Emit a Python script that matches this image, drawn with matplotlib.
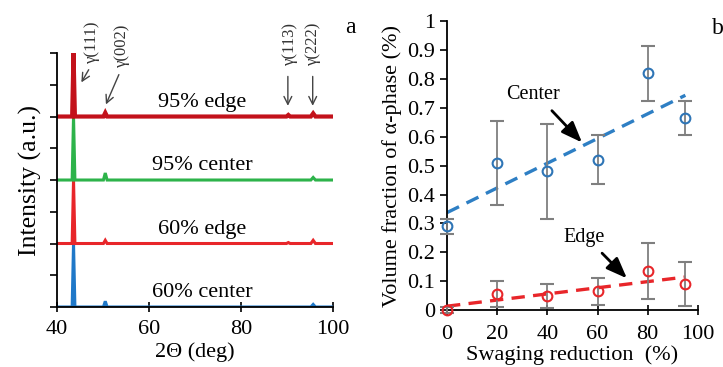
import numpy as np
import matplotlib
matplotlib.use("Agg")
import matplotlib.pyplot as plt

plt.rcParams["font.family"] = ["Liberation Serif", "DejaVu Serif"]
plt.rcParams["mathtext.fontset"] = "stix"

# ── (a) XRD patterns: key points ──────────────────────────────────
two_theta = [40, 43.3, 43.6, 43.9, 50.1, 50.5, 50.9, 89.9, 90.3, 90.7, 95.2, 95.7, 96.2, 100]
xrd_60_center = [0, 0, 2.0, 0, 0, 0.18, 0, 0, 0, 0, 0, 0.08, 0, 0]
xrd_60_edge = [0, 0, 2.0, 0, 0, 0.10, 0, 0, 0.03, 0, 0, 0.10, 0, 0]
xrd_95_center = [0, 0, 2.0, 0, 0, 0.22, 0, 0, 0, 0, 0, 0.08, 0, 0]
xrd_95_edge = [0, 0, 2.0, 0, 0, 0.12, 0, 0, 0.05, 0, 0, 0.10, 0, 0]
xrd_labels = ["60% center", "60% edge", "95% center", "95% edge"]
xrd_offsets = [0, 2, 4, 6]
xrd_colors = ["#1f78c8", "#e8262a", "#2db34a", "#c3121b"]

peak_names = ["γ(111)", "γ(002)", "γ(113)", "γ(222)"]

# ── (b) α-phase volume fraction ───────────────────────────────────
reduction = np.array([0, 20, 40, 60, 80, 95])
center = np.array([0.29, 0.51, 0.48, 0.52, 0.82, 0.665])
center_err = np.array([0.025, 0.145, 0.165, 0.085, 0.095, 0.058])
edge = np.array([0.0, 0.055, 0.05, 0.065, 0.135, 0.09])
edge_err = np.array([0.01, 0.045, 0.042, 0.047, 0.097, 0.077])

FS = 16

fig = plt.figure(figsize=(7.23, 3.67), dpi=100)

# ── panel a ──
ax = fig.add_axes([0.0788, 0.1635, 0.3817, 0.692])
spectra = [xrd_60_center, xrd_60_edge, xrd_95_center, xrd_95_edge]
for ys, off, col, lab in zip(spectra, xrd_offsets, xrd_colors, xrd_labels):
    ax.plot(two_theta, np.array(ys) + off, color=col, lw=2.2 if lab != "95% edge" else 3.0,
            solid_joinstyle="miter")
    ax.text(71.5, off + 0.45, lab, ha="center", va="center", fontsize=FS)

ax.set_xlim(40, 100)
ax.set_ylim(0, 8)
ax.set_xticks([40, 60, 80, 100])
ax.set_yticks(np.arange(0, 9, 1))
ax.set_yticklabels([])
ax.tick_params(axis="y", direction="out", length=5, width=1.2)
ax.tick_params(axis="x", direction="inout", length=7, width=1.2, labelsize=FS, pad=6)
for s in ["top", "right"]:
    ax.spines[s].set_visible(False)
for s in ["left", "bottom"]:
    ax.spines[s].set_linewidth(1.3)
ax.set_xlabel("2Θ (deg)", fontsize=FS, labelpad=2)
ax.set_ylabel("Intensity (a.u.)", fontsize=18.5, labelpad=2)

# peak labels + arrows
label_pos = [(47.6, 8.35), (54.1, 8.25), (90.6, 8.3), (95.6, 8.3)]
arrow_tail = [(47.2, 7.55), (53.7, 7.4), (90.2, 7.35), (95.6, 7.35)]
arrow_head = [(45.0, 7.0), (50.4, 6.3), (90.2, 6.25), (95.6, 6.25)]
for name, lp, tl, hd in zip(peak_names, label_pos, arrow_tail, arrow_head):
    ax.text(lp[0], lp[1], name, rotation=90, ha="center", va="center",
            fontsize=12, color="#333333", clip_on=False)
    ax.annotate("", xy=hd, xytext=tl,
                arrowprops=dict(arrowstyle="->", color="#444444", lw=1.0,
                                mutation_scale=14), annotation_clip=False)

fig.text(0.484, 0.925, "a", fontsize=17, ha="center", va="center")

# ── panel b ──
bx = fig.add_axes([0.6183, 0.155, 0.347, 0.7875])
bx.errorbar(reduction, center, yerr=center_err, fmt="o", mfc="none",
            mec="#2e75b6", mew=1.5, ms=7, ecolor="#7f7f7f", elinewidth=1.3,
            capsize=5, capthick=1.3, clip_on=False, zorder=3)
bx.errorbar(reduction, edge, yerr=edge_err, fmt="o", mfc="none",
            mec="#e8262a", mew=1.5, ms=7, ecolor="#7f7f7f", elinewidth=1.3,
            capsize=5, capthick=1.3, clip_on=False, zorder=3)

xfit = np.array([reduction.min(), reduction.max()])
pc = np.polyfit(reduction, center, 1)
pe = np.polyfit(reduction, edge, 1)
bx.plot(xfit, np.polyval(pc, xfit), ls=(0, (4, 2.5)), color="#2e7fc4", lw=2.4, zorder=2)
bx.plot(xfit, np.polyval(pe, xfit), ls=(0, (4, 2.5)), color="#e8262a", lw=2.4, zorder=2)

bx.set_xlim(0, 100)
bx.set_ylim(0, 1)
bx.set_xticks(np.arange(0, 101, 20))
bx.set_yticks(np.arange(0, 1.01, 0.1))
bx.set_yticklabels(["0", "0.1", "0.2", "0.3", "0.4", "0.5", "0.6", "0.7", "0.8", "0.9", "1"])
bx.tick_params(axis="y", direction="out", length=5, width=1.2, labelsize=FS)
bx.tick_params(axis="x", direction="inout", length=7, width=1.2, labelsize=FS, pad=7)
for s in ["top", "right"]:
    bx.spines[s].set_visible(False)
for s in ["left", "bottom"]:
    bx.spines[s].set_linewidth(1.3)
bx.set_xlabel("Swaging reduction  (%)", fontsize=FS, labelpad=1)
bx.set_ylabel("Volume fraction of α-phase (%)", fontsize=FS, labelpad=4)

arrow_kw = dict(arrowstyle="-|>,head_length=0.9,head_width=0.35", color="black",
                lw=2.0, mutation_scale=14, shrinkA=0, shrinkB=0)
bx.text(34.3, 0.745, "Center", fontsize=14.5, ha="center", va="center")
bx.annotate("", xy=(53.8, 0.58), xytext=(41.8, 0.69), arrowprops=arrow_kw)
bx.text(54.6, 0.25, "Edge", fontsize=14.5, ha="center", va="center")
bx.annotate("", xy=(71.7, 0.11), xytext=(61.8, 0.197), arrowprops=arrow_kw)

fig.text(0.993, 0.923, "b", fontsize=17, ha="center", va="center")

fig.savefig("out.png", dpi=100)
